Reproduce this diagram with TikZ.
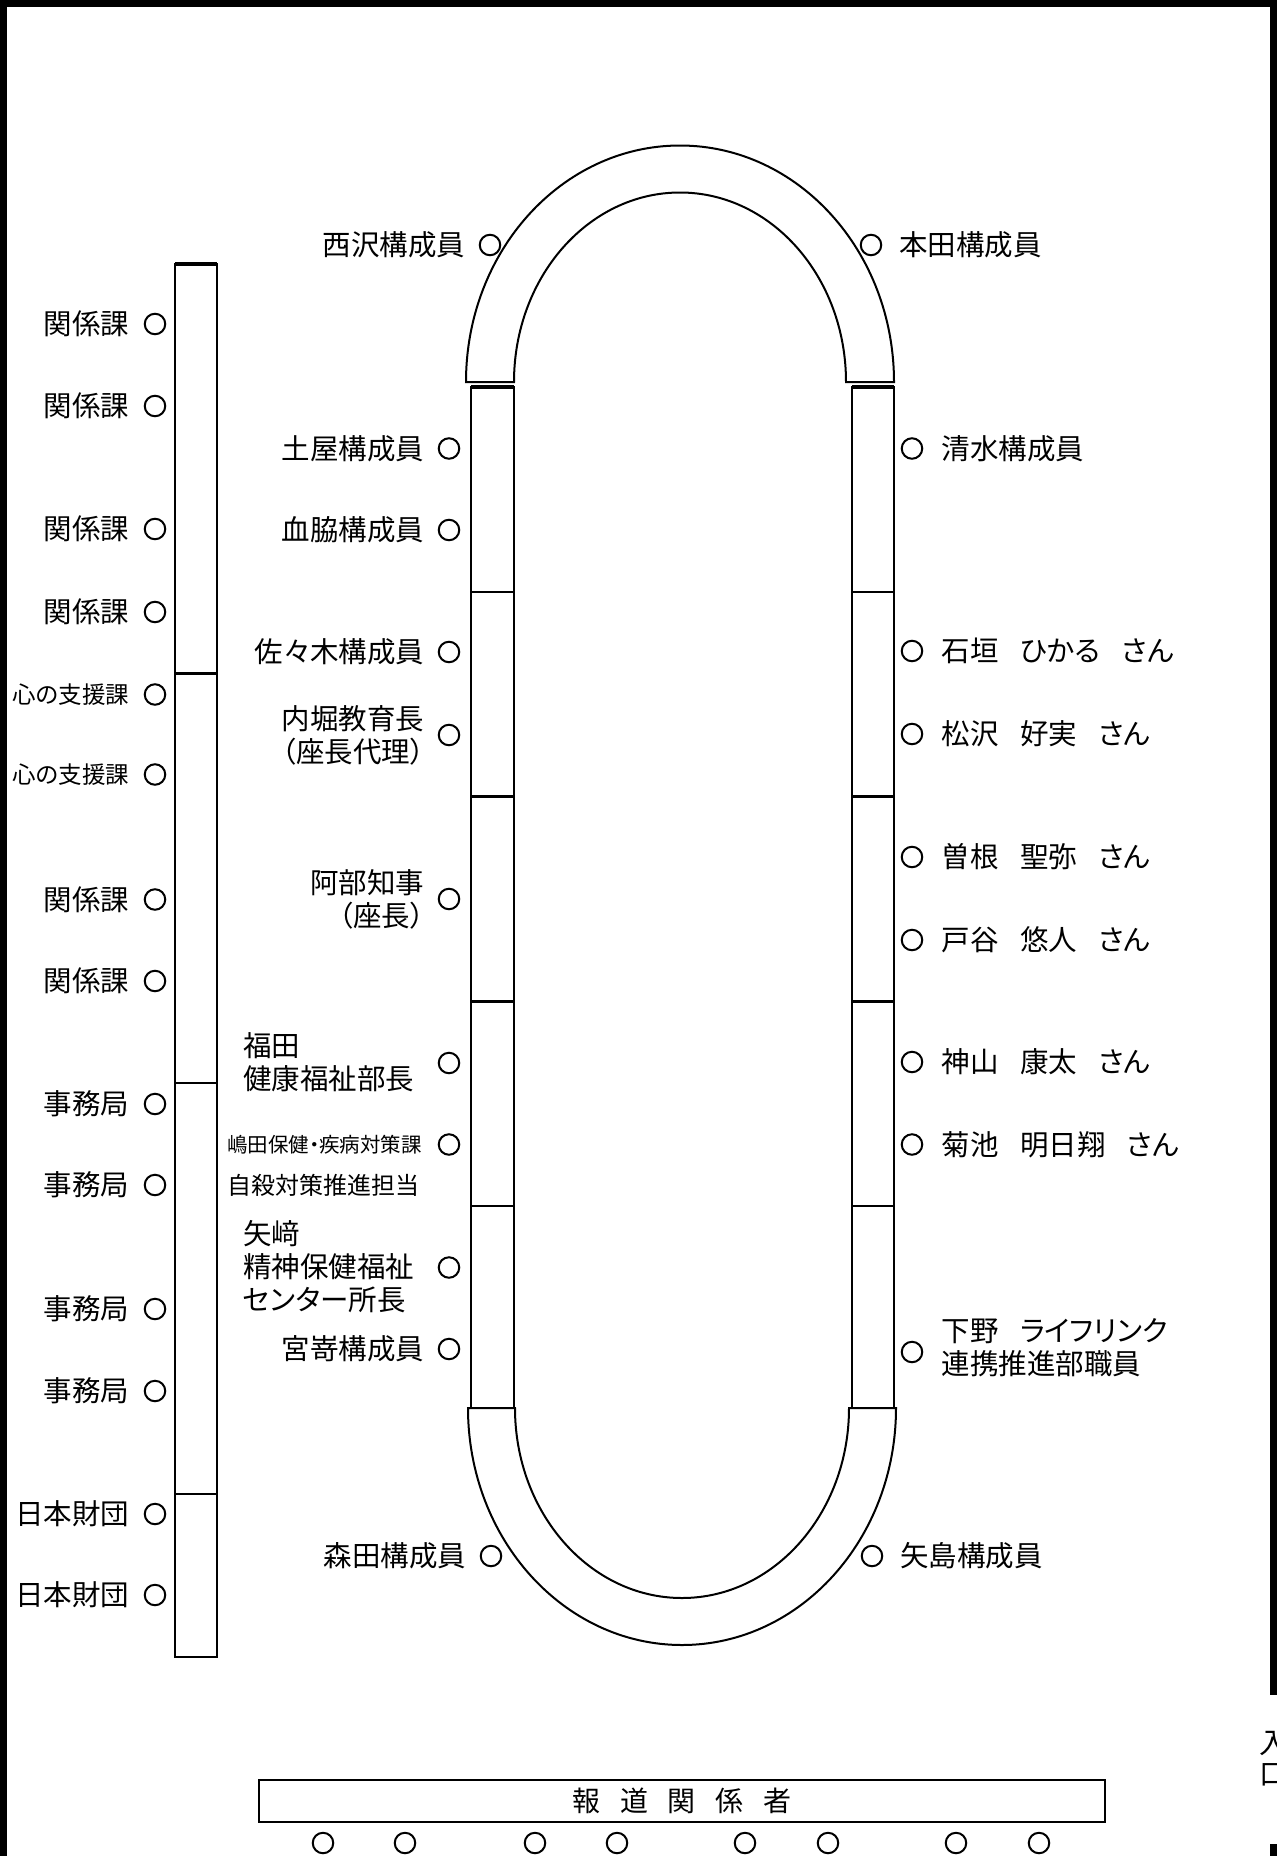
\documentclass[tikz,border=0pt]{standalone}
\usepackage{fontspec}
\setmainfont{Noto Sans CJK JP}[RawFeature=+palt]
\begin{document}
\begin{tikzpicture}[x=1pt,y=-1pt,
  seat/.style={circle, draw, line width=2, minimum size=20.5, inner sep=0},
  lbl/.style={inner sep=0, font=\fontsize{28.5}{33}\selectfont},
  lblsmall/.style={inner sep=0, font=\fontsize{23.5}{28}\selectfont},
  tbl/.style={line width=2.5},
  tbltop/.style={line width=4},
  arcline/.style={line width=2},
  frame/.style={line width=7}]
\useasboundingbox (0,0) rectangle (1277,1856);
% outer frame
\draw[frame] (3.5,1860) -- (3.5,3.5) -- (1273.5,3.5) -- (1273.5,1695);
\draw[frame] (1273.5,1844) -- (1273.5,1860);
\node[lbl, anchor=west, align=left, font=\fontsize{28.5}{31}\selectfont] (entrance) at (1259,1759) {入\\口};

% left side table
\draw[tbl] (175,264) rectangle (217,1657);
\draw[tbltop] (175,264) -- (217,264);
\foreach \yy in {673.4,1083,1494} \draw[tbl] (175,\yy) -- (217,\yy);

% oval table: top arc
\draw[arcline] (466,382) arc[start angle=180,end angle=360,x radius=214,y radius=236.5]
  -- (846,382) arc[start angle=0,end angle=-180,x radius=166,y radius=189.5] -- cycle;
% bottom arc
\draw[arcline] (468,1408) arc[start angle=180,end angle=0,x radius=214,y radius=237]
  -- (849,1408) arc[start angle=0,end angle=180,x radius=167,y radius=190] -- cycle;
% straight columns
\foreach \xa/\xb in {471/514,852/894}{
  \draw[tbl] (\xa,387) rectangle (\xb,1408);
  \draw[tbltop] (\xa,387) -- (\xb,387);
  \foreach \yy in {592,796.5,1001.5,1206} \draw[tbl] (\xa,\yy) -- (\xb,\yy);
}

% left column seats
\foreach \n/\yy/\t in {a1/324/関係課,a2/406/関係課,a3/529/関係課,a4/612/関係課,
  a7/899.5/関係課,a8/981/関係課,a9/1104/事務局,a10/1185/事務局,a11/1309/事務局,a12/1391/事務局,
  a13/1514/日本財団,a14/1595/日本財団}{
  \node[seat] (\n) at (155,\yy) {};
  \node[lbl, anchor=east] (\n t) at (129.5,\yy) {\t};
}
\foreach \n/\yy in {a5/694.5,a6/774.5}{
  \node[seat] (\n) at (155,\yy) {};
  \node[lblsmall, anchor=east] (\n t) at (129.5,\yy) {心の支援課};
}

% inner left seats
\node[seat] (b0) at (490,245) {};
\node[lbl, anchor=east] (b0t) at (465.5,245) {西沢構成員};
\node[seat] (b1) at (449,448.5) {};
\node[lbl, anchor=east] (b1t) at (424.5,448.5) {土屋構成員};
\node[seat] (b2) at (449,530) {};
\node[lbl, anchor=east] (b2t) at (424.5,530) {血脇構成員};
\node[seat] (b3) at (449,652) {};
\node[lbl, anchor=east] (b3t) at (424.5,652) {佐々木構成員};
\node[seat] (b4) at (449,735) {};
\node[lbl, anchor=east, align=right] (b4t) at (424.5,735) {内堀教育長\\（座長代理）};
\node[seat] (b5) at (449,899) {};
\node[lbl, anchor=east, align=right] (b5t) at (424.5,899) {阿部知事\\（座長）};
\node[seat] (b6) at (449,1063) {};
\node[lbl, anchor=west, align=left] (b6t) at (243,1062) {福田\\健康福祉部長};
\node[seat] (b7) at (449,1144.5) {};
\node[inner sep=0, anchor=west, font=\fontsize{20.5}{24}\selectfont] (b7t) at (227,1144.5) {嶋田保健・疾病対策課};
\node[inner sep=0, anchor=west, font=\fontsize{24}{28}\selectfont] (b7u) at (227,1185) {自殺対策推進担当};
\node[seat] (b8) at (449,1267.5) {};
\node[lbl, anchor=west, align=left] (b8t) at (243,1267) {矢﨑\\精神保健福祉\\センター所長};
\node[seat] (b9) at (449,1349) {};
\node[lbl, anchor=east] (b9t) at (424.5,1349) {宮嵜構成員};
\node[seat] (b10) at (491,1556) {};
\node[lbl, anchor=east] (b10t) at (466.5,1556) {森田構成員};

% right seats
\node[seat] (c0) at (871,245) {};
\node[lbl, anchor=west] (c0t) at (899,245) {本田構成員};
\node[seat] (c1) at (912,448.5) {};
\node[lbl, anchor=west] (c1t) at (941.5,448.5) {清水構成員};
\node[seat] (c2) at (912,651) {};
\node[lbl, anchor=west] (c2t) at (941.5,651) {石垣\hspace{0.75em}ひかる\hspace{0.75em}さん};
\node[seat] (c3) at (912,734) {};
\node[lbl, anchor=west] (c3t) at (941.5,734) {松沢\hspace{0.75em}好実\hspace{0.75em}さん};
\node[seat] (c4) at (912,857) {};
\node[lbl, anchor=west] (c4t) at (941.5,857) {曽根\hspace{0.75em}聖弥\hspace{0.75em}さん};
\node[seat] (c5) at (912,940) {};
\node[lbl, anchor=west] (c5t) at (941.5,940) {戸谷\hspace{0.75em}悠人\hspace{0.75em}さん};
\node[seat] (c6) at (912,1062) {};
\node[lbl, anchor=west] (c6t) at (941.5,1062) {神山\hspace{0.75em}康太\hspace{0.75em}さん};
\node[seat] (c7) at (912,1144.5) {};
\node[lbl, anchor=west] (c7t) at (941.5,1144.5) {菊池\hspace{0.75em}明日翔\hspace{0.75em}さん};
\node[seat] (c8) at (912,1352) {};
\node[lbl, anchor=west, align=left] (c8t) at (941.5,1348) {下野\hspace{0.75em}ライフリンク\\連携推進部職員};
\node[seat] (c9) at (872,1556) {};
\node[lbl, anchor=west] (c9t) at (900,1556) {矢島構成員};

% press
\node[draw, line width=2.5, minimum width=846, minimum height=42, inner sep=0,
  font=\fontsize{28}{30}\selectfont] (press) at (682,1801)
  {報\hspace{0.7em}道\hspace{0.7em}関\hspace{0.7em}係\hspace{0.7em}者};
\foreach \n/\xx in {p1/323,p2/405,p3/535,p4/617,p5/745,p6/828,p7/956,p8/1039}
  \node[seat] (\n) at (\xx,1843) {};
\end{tikzpicture}
\end{document}
